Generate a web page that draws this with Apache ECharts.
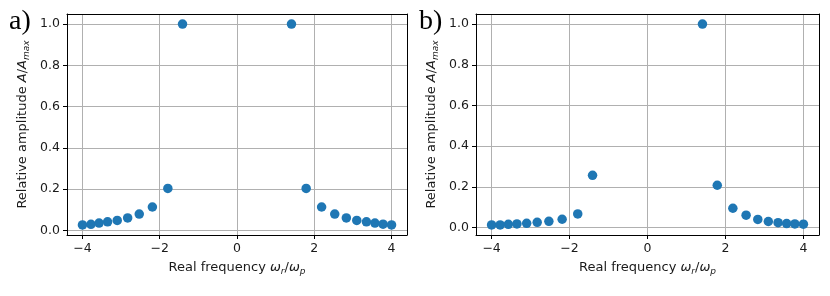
<!DOCTYPE html>
<html><head><meta charset="utf-8">
<script src="https://cdn.jsdelivr.net/npm/echarts@6/dist/echarts.min.js"></script>
<style>html,body{margin:0;padding:0;background:#fff}#c{width:830px;height:296px}</style>
</head><body><div id="c"></div>
<script>
// Panel a
const xA = [-4.00,-3.78,-3.57,-3.35,-3.10,-2.83,-2.53,-2.19,-1.79,-1.41, 1.41,1.79,2.19,2.53,2.83,3.10,3.35,3.57,3.78,4.00];
const yA = [0.026,0.029,0.035,0.041,0.048,0.060,0.079,0.113,0.203,1.000, 1.000,0.203,0.113,0.079,0.060,0.048,0.041,0.035,0.030,0.026];
// Panel b
const xB = [-4.00,-3.78,-3.57,-3.35,-3.10,-2.83,-2.53,-2.19,-1.79,-1.41, 1.41,1.79,2.19,2.53,2.83,3.10,3.35,3.57,3.78,4.00];
const yB = [0.013,0.013,0.016,0.018,0.021,0.026,0.031,0.041,0.067,0.257, 1.000,0.208,0.095,0.061,0.040,0.030,0.024,0.020,0.018,0.017];
const xTicks = [-4,-2,0,2,4];
const yTicks = [0,0.2,0.4,0.6,0.8,1.0];
const panelLabels = ['a)','b)'];

const FONT = 'DejaVu Sans';
const BLUE = '#1f77b4';
const TXT = '#1a1a1a';
const chart = echarts.init(document.getElementById('c'), null, {renderer:'canvas'});

function pairs(xs, ys){ return xs.map((x,i)=>[x, ys[i]]); }
function range(vs){
  const lo = Math.min(...vs), hi = Math.max(...vs), m = (hi-lo)*0.05;
  return [lo-m, hi+m];
}
const rich = {
  i:{fontFamily:FONT, fontStyle:'italic', fontSize:13, color:TXT, lineHeight:16},
  s:{fontFamily:FONT, fontStyle:'italic', fontSize:9, color:TXT, lineHeight:16, verticalAlign:'bottom'}
};
const spine = {show:true, onZero:false, lineStyle:{color:'#000', width:1}};
function xAxis(idx, xs){
  const r = range(xs);
  return {
    type:'value', gridIndex:idx, min:r[0], max:r[1],
    name:'Real frequency {i|ω}{s|r}/{i|ω}{s|p}', nameLocation:'middle', nameGap:25,
    nameTextStyle:{fontFamily:FONT, fontSize:13, color:TXT, lineHeight:16, rich:rich},
    axisLine:spine,
    axisTick:{show:true, length:4, customValues:xTicks, lineStyle:{color:'#000'}},
    axisLabel:{customValues:xTicks, margin:7, fontFamily:FONT, fontSize:12.5, color:TXT,
      formatter:v=> (v<0?'\u2212'+Math.abs(v):String(v))},
    splitLine:{show:true, lineStyle:{color:'#b0b0b0', width:1}}
  };
}
function xAxisTop(idx, xs){
  const r = range(xs);
  return {type:'value', gridIndex:idx, position:'top', min:r[0], max:r[1],
    axisLine:spine, axisTick:{show:false}, axisLabel:{show:false}, splitLine:{show:false}};
}
function yAxis(idx, ys){
  const r = range(ys);
  return {
    type:'value', gridIndex:idx, min:r[0], max:r[1],
    name:'Relative amplitude {i|A}/{i|A}{s|max}', nameLocation:'middle', nameGap:36, nameRotate:90,
    nameTextStyle:{fontFamily:FONT, fontSize:13, color:TXT, lineHeight:16, rich:rich},
    axisLine:spine,
    axisTick:{show:true, length:4, customValues:yTicks, lineStyle:{color:'#000'}},
    axisLabel:{customValues:yTicks, margin:7, fontFamily:FONT, fontSize:12.5, color:TXT,
      formatter:v=>v.toFixed(1)},
    splitLine:{show:true, lineStyle:{color:'#b0b0b0', width:1}}
  };
}
function yAxisRight(idx, ys){
  const r = range(ys);
  return {type:'value', gridIndex:idx, position:'right', min:r[0], max:r[1],
    axisLine:spine, axisTick:{show:false}, axisLabel:{show:false}, splitLine:{show:false}};
}

chart.setOption({
  animation:false,
  backgroundColor:'#fff',
  grid:[
    {left:67, right:423, top:14, bottom:61},
    {left:476, right:11, top:14, bottom:61}
  ],
  xAxis:[xAxis(0,xA), xAxis(1,xB), xAxisTop(0,xA), xAxisTop(1,xB)],
  yAxis:[yAxis(0,yA), yAxis(1,yB), yAxisRight(0,yA), yAxisRight(1,yB)],
  series:[
    {type:'scatter', xAxisIndex:0, yAxisIndex:0, data:pairs(xA,yA), symbolSize:9.5, itemStyle:{color:BLUE, opacity:1}},
    {type:'scatter', xAxisIndex:1, yAxisIndex:1, data:pairs(xB,yB), symbolSize:9.5, itemStyle:{color:BLUE, opacity:1}}
  ],
  graphic:[
    {type:'text', left:9, top:8, style:{text:panelLabels[0], font:'28px "Liberation Serif"', fill:'#000'}},
    {type:'text', left:419, top:8, style:{text:panelLabels[1], font:'28px "Liberation Serif"', fill:'#000'}}
  ]
});
</script></body></html>
